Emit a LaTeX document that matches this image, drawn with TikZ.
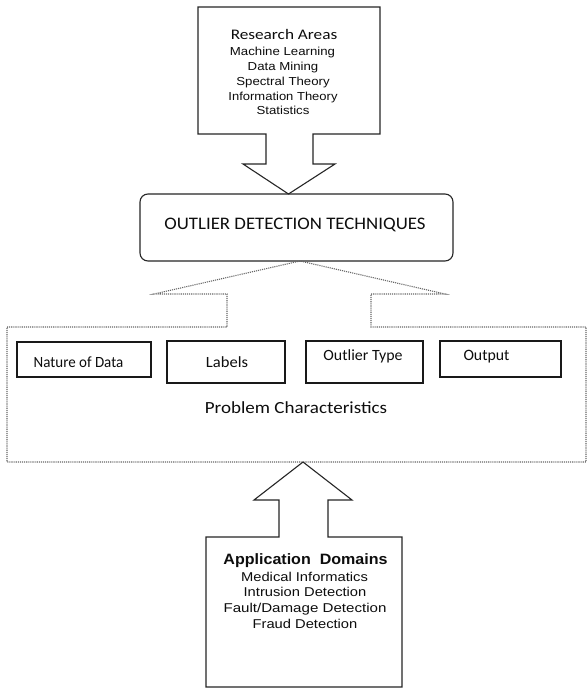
\documentclass[tikz,border=0pt]{standalone}
\usepackage{fontspec}
\setmainfont{Liberation Sans}
\newfontfamily\calfont{Carlito}
\newcommand{\hs}[2]{\scalebox{#1}[1]{#2}}
\begin{document}
\begin{tikzpicture}[x=1pt,y=-1pt,
  solidline/.style={draw=black!85, line width=1.1pt, line join=miter},
  dotline/.style={draw=black!60, line width=1.1pt, densely dotted},
  smallbox/.style={draw=black!90, line width=1.3pt, inner sep=0pt},
  txt/.style={anchor=base, inner sep=0pt, text=black!95},
  topfont/.style={txt, font=\fontsize{11.6}{13}\selectfont},
  botfont/.style={txt, font=\fontsize{12.8}{14}\selectfont},
  calf/.style={txt, font=\calfont\fontsize{#1}{#1}\selectfont}
]
\useasboundingbox (0,0) rectangle (587,688);
\fill[white] (0,0) rectangle (587,688);

% top block arrow (research areas)
\draw[solidline] (198,7) -- (380,7) -- (380,134) -- (313,134) -- (313,164)
  -- (335,164) -- (288.5,194) -- (243,164) -- (266,164) -- (266,134)
  -- (198,134) -- cycle;
\node[calf=14.6] (ra) at (284,39) {\hs{1.18}{Research Areas}};
\node[topfont] (ml) at (282.5,55) {\hs{1.14}{Machine Learning}};
\node[topfont] (dm) at (283,70) {\hs{1.14}{Data Mining}};
\node[topfont] (st) at (283,85) {\hs{1.14}{Spectral Theory}};
\node[topfont] (it) at (283,100) {\hs{1.12}{Information Theory}};
\node[topfont] (sa) at (283,114) {\hs{1.14}{Statistics}};

% central rounded box
\node[draw=black!85, line width=1.1pt, rounded corners=8pt,
      minimum width=313pt, minimum height=67pt] (odt) at (296.5,227.5) {};
\node[calf=17.6] (odtx) at (295,229) {\hs{1.07}{OUTLIER DETECTION TECHNIQUES}};

% dotted callout (problem characteristics)
\coordinate (apex) at (300,261);
\draw[dotline] (7,327) -- (227,327) -- (227,294) -- (154,294) -- (apex)
  -- (445,294) -- (371,294) -- (371,327) -- (586,327) -- (586,462)
  -- (7,462) -- cycle;

% the four characteristic boxes
\node[smallbox, minimum width=134pt, minimum height=35pt] (nat) at (84,359.5) {};
\node[smallbox, minimum width=118pt, minimum height=42pt] (lab) at (226,362) {};
\node[smallbox, minimum width=117pt, minimum height=42pt] (out) at (364.5,362) {};
\node[smallbox, minimum width=121pt, minimum height=36pt] (opt) at (500.5,359) {};
\node[calf=15.6] (natx) at (78.5,367.7) {\hs{0.96}{Nature of Data}};
\node[calf=15.6] (labx) at (227,367) {\hs{1.06}{Labels}};
\node[calf=15.6] (outx) at (363,360) {\hs{1.02}{Outlier Type}};
\node[calf=15.8] (optx) at (486.5,360) {Output};
\node[calf=17] (pc) at (296,413.3) {\hs{1.12}{Problem Characteristics}};

% bottom block arrow (application domains)
\draw[solidline] (303,462) -- (352,500) -- (328,500) -- (328,537) -- (402,537)
  -- (402,687) -- (206,687) -- (206,537) -- (279,537) -- (279,500)
  -- (254,500) -- cycle;
\node[txt, font=\bfseries\fontsize{15}{16}\selectfont] (ad) at (305.5,564) {\hs{1.07}{Application\ \ Domains}};
\node[botfont] (mi) at (304.5,581.7) {\hs{1.15}{Medical Informatics}};
\node[botfont] (id) at (305,596.5) {\hs{1.15}{Intrusion Detection}};
\node[botfont] (fd) at (305,612) {\hs{1.18}{Fault/Damage Detection}};
\node[botfont] (fr) at (305,628) {\hs{1.15}{Fraud Detection}};
\end{tikzpicture}
\end{document}
